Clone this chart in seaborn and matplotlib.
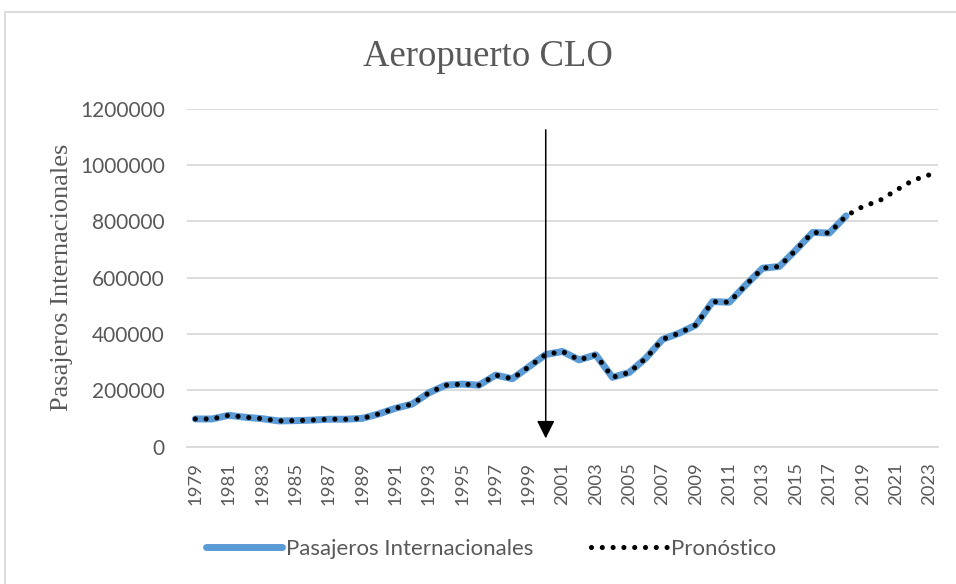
import matplotlib
matplotlib.use("Agg")
import matplotlib.pyplot as plt
import seaborn as sns
import pandas as pd
from matplotlib.patches import Rectangle

# ---- data ----
years_hist = list(range(1979, 2019))
pasajeros = [98000, 98000, 111000, 104000, 99000, 91000, 92000, 94000, 97000, 97000,
             100000, 116000, 136000, 151000, 191000, 218000, 222000, 218000, 254000, 241000,
             284000, 327000, 338000, 308000, 326000, 246000, 263000, 314000, 381000, 403000,
             432000, 515000, 513000, 575000, 634000, 640000, 699000, 761000, 759000, 820000]
years_fc = list(range(2019, 2024))
pronostico_extra = [853000, 874000, 911000, 946000, 966000]
tick_years = list(range(1979, 2024, 2))
y_ticks = [0, 200000, 400000, 600000, 800000, 1000000, 1200000]
arrow_year = 2000

df_hist = pd.DataFrame({"year": years_hist, "value": pasajeros})
df_fc = pd.DataFrame({"year": years_hist + years_fc, "value": pasajeros + pronostico_extra})

sns.set_theme(style="white")
plt.rcParams["font.family"] = ["Lato", "DejaVu Sans"]

fig = plt.figure(figsize=(9.56, 5.84), dpi=100)
ax = fig.add_axes([0.1956, 0.2354, 0.7854, 0.578])

gray_txt = "#595959"
grid_c = "#D9D9D9"

sns.lineplot(data=df_hist, x="year", y="value", ax=ax, color="#5B9BD5", linewidth=5.0,
             label="Pasajeros Internacionales", solid_capstyle="round", solid_joinstyle="round")
sns.lineplot(data=df_fc, x="year", y="value", ax=ax, color="black", linewidth=3.7,
             linestyle=(0, (0.001, 2.1)), dash_capstyle="round", label="Pronóstico")

ax.set_xlim(1978.5, 2023.5)
ax.set_ylim(0, 1200000)
ax.set_xticks(tick_years)
ax.set_xticklabels([str(y) for y in tick_years], rotation=90, fontsize=13.3, color=gray_txt)
ax.set_yticks(y_ticks)
ax.set_yticklabels([str(v) for v in y_ticks], fontsize=15, color=gray_txt)
ax.tick_params(axis="x", length=0, pad=11)
ax.tick_params(axis="y", length=0, pad=16)
ax.yaxis.grid(True, color=grid_c, linewidth=1.3)
ax.xaxis.grid(False)
ax.set_axisbelow(True)
for s in ["top", "right", "left"]:
    ax.spines[s].set_visible(False)
ax.spines["bottom"].set_color(grid_c)
ax.spines["bottom"].set_linewidth(1.3)
ax.set_xlabel("")
ax.set_ylabel("")

ax.annotate("", xy=(arrow_year, 29000), xytext=(arrow_year, 1126000),
            arrowprops=dict(arrowstyle="-|>,head_length=0.6,head_width=0.3",
                            color="black", lw=1.1, mutation_scale=18,
                            shrinkA=0, shrinkB=0))

leg = ax.legend(loc="center", bbox_to_anchor=(0.514, 0.06), bbox_transform=fig.transFigure,
                ncol=2, frameon=False, fontsize=16, handlelength=3.4, columnspacing=2.6,
                handletextpad=0.2)
for t in leg.get_texts():
    t.set_color(gray_txt)

fig.text(0.5105, 0.902, "Aeropuerto CLO", ha="center", va="center",
         fontsize=26.5, color=gray_txt, family=["Liberation Serif"])
fig.text(0.065, 0.525, "Pasajeros Internacionales", ha="center", va="center",
         rotation=90, fontsize=19, color=gray_txt, family=["Liberation Serif"])

fig.patches.append(Rectangle((5 / 956, -0.1), 1.2, 1 - 12 / 584 + 0.1,
                             transform=fig.transFigure, fill=False,
                             edgecolor=grid_c, linewidth=1.3))

fig.savefig("out.png", dpi=100)
